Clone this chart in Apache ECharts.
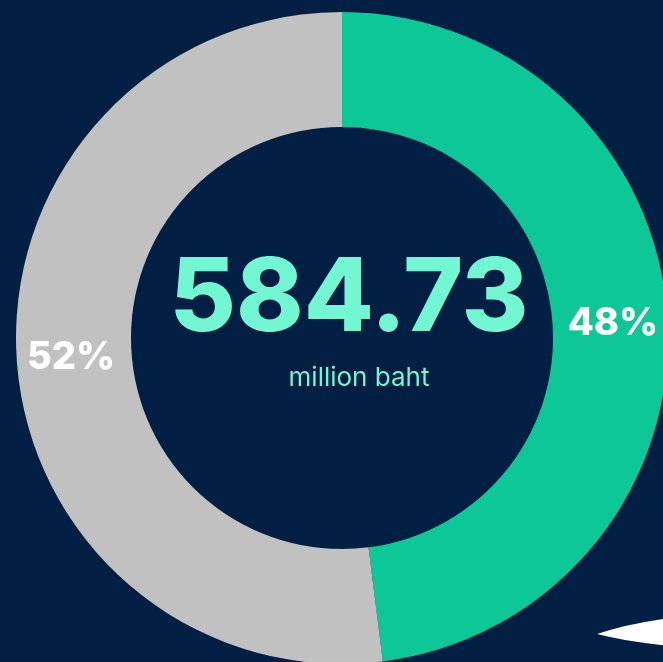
<!DOCTYPE html>
<html>
<head>
<meta charset="utf-8">
<script src="https://cdn.jsdelivr.net/npm/echarts@6/dist/echarts.min.js"></script>
<style>
  html, body { margin: 0; padding: 0; background: #001f42; }
  #chart { width: 663px; height: 662px; }
</style>
</head>
<body>
<div id="chart"></div>
<script>
// share of the total, clockwise from the top
var names = ['green', 'grey'];
var values = [48, 52];
var colors = ['#0dc896', '#c1c1c1'];
var total = '584.73';
var unit = 'million baht';

var myChart = echarts.init(document.getElementById('chart'));

var seriesData = names.map(function (n, i) {
    return { name: n, value: values[i], itemStyle: { color: colors[i] } };
});

var option = {
    backgroundColor: '#001f42',
    animation: false,
    series: [{
        type: 'pie',
        center: [342, 338],
        radius: [211, 326],
        startAngle: 90,
        clockwise: true,
        silent: true,
        data: seriesData,
        label: {
            show: true,
            position: 'inside',
            formatter: '{c}%',
            color: '#ffffff',
            fontFamily: 'Inter',
            fontWeight: 800,
            fontSize: 38,
            offset: [0, 3]
        },
        labelLine: { show: false }
    }],
    graphic: [
        {
            type: 'text',
            x: 349,
            y: 300,
            style: {
                text: total,
                fill: '#73f7d2',
                fontFamily: 'Inter',
                fontWeight: 800,
                fontSize: 102,
                align: 'center',
                verticalAlign: 'middle'
            }
        },
        {
            type: 'text',
            x: 359,
            y: 378,
            style: {
                text: unit,
                fill: '#73f7d2',
                fontFamily: 'Inter',
                fontSize: 26,
                align: 'center',
                verticalAlign: 'middle'
            }
        },
        {
            // white pointer poking in at the bottom right corner
            type: 'polygon',
            shape: {
                points: [[597, 634], [610, 630], [625, 626], [645, 622], [670, 618],
                         [670, 646], [645, 643], [625, 640], [610, 637]]
            },
            style: { fill: '#ffffff' }
        }
    ]
};

myChart.setOption(option, true);
</script>
</body>
</html>
